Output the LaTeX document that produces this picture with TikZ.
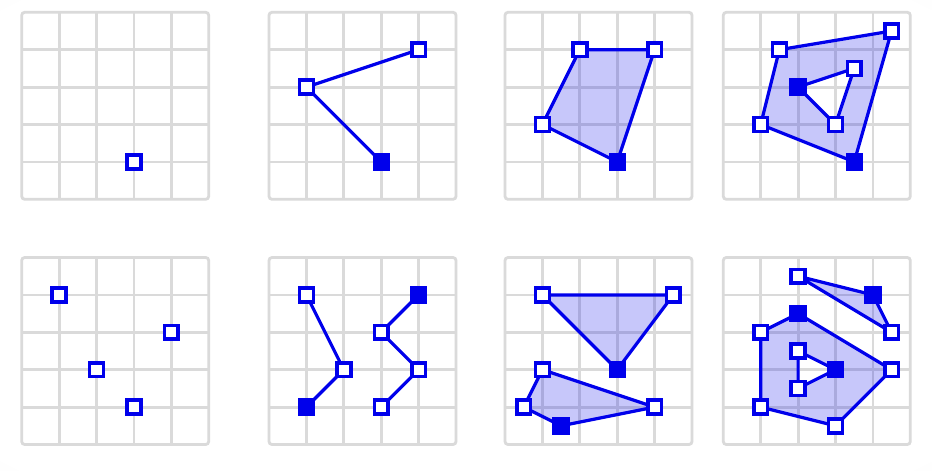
\documentclass[tikz,border=0pt]{standalone}
\pgfdeclarelayer{back}
\pgfdeclarelayer{mid}
\pgfsetlayers{back,mid,main}
\definecolor{vblue}{RGB}{0,0,235}
\definecolor{gridgray}{RGB}{218,218,218}
\pgfdeclareradialshading{bgshade}{\pgfpoint{0bp}{0bp}}{color(0bp)=(white); color(34bp)=(white); color(52bp)=(black!6); color(75bp)=(black!12)}
\tikzset{
  v/.style={rectangle, draw=vblue, fill=white, line width=3.6pt, minimum size=13.8pt, inner sep=0pt},
  vf/.style={v, fill=vblue},
  edge/.style={draw=vblue, line width=3.2pt, line join=round, line cap=round},
  area/.style={fill=vblue, fill opacity=0.22, even odd rule},
  gridline/.style={draw=gridgray, line width=2.8pt},
  panelorigin/.style={x=37.4pt, y=-37.4pt}
}
\newcommand\gridpanel{%
  \begin{pgfonlayer}{back}
    \fill[white, rounded corners=3pt] (0,0) rectangle (5,5);
    \foreach \i in {1,...,4}{\draw[gridline] (\i,0) -- (\i,5); \draw[gridline] (0,\i) -- (5,\i);}
    \draw[gridline, rounded corners=3pt] (0,0) rectangle (5,5);
  \end{pgfonlayer}}
\begin{document}
\begin{tikzpicture}[x=1pt, y=-1pt]
\useasboundingbox (0,0) rectangle (932,471);
\begin{pgfonlayer}{back}
  \shade[shading=bgshade] (0,0) rectangle (932,471);
\end{pgfonlayer}

% Panel A
\begin{scope}[shift={(21.7,12.3)}, panelorigin]
  \gridpanel
  \node[v] (a1) at (3,4) {};
\end{scope}

% Panel B
\begin{scope}[shift={(269,12.3)}, panelorigin]
  \gridpanel
  \node[v] (b1) at (4,1) {};
  \node[v] (b2) at (1,2) {};
  \node[vf] (b3) at (3,4) {};
  \begin{pgfonlayer}{mid}
    \draw[edge] (b1.center) -- (b2.center) -- (b3.center);
  \end{pgfonlayer}
\end{scope}

% Panel C
\begin{scope}[shift={(505,12.3)}, panelorigin]
  \gridpanel
  \node[v] (c1) at (2,1) {};
  \node[v] (c2) at (4,1) {};
  \node[vf] (c3) at (3,4) {};
  \node[v] (c4) at (1,3) {};
  \begin{pgfonlayer}{mid}
    \fill[area] (c1.center) -- (c2.center) -- (c3.center) -- (c4.center) -- cycle;
    \draw[edge] (c1.center) -- (c2.center) -- (c3.center) -- (c4.center) -- cycle;
  \end{pgfonlayer}
\end{scope}

% Panel D
\begin{scope}[shift={(723.3,12.3)}, panelorigin]
  \gridpanel
  \node[v] (d1) at (4.5,0.5) {};
  \node[v] (d2) at (1.5,1) {};
  \node[v] (d3) at (1,3) {};
  \node[vf] (d4) at (3.5,4) {};
  \node[vf] (d5) at (2,2) {};
  \node[v] (d6) at (3.5,1.5) {};
  \node[v] (d7) at (3,3) {};
  \begin{pgfonlayer}{mid}
    \fill[area] (d1.center) -- (d2.center) -- (d3.center) -- (d4.center) -- cycle
                (d5.center) -- (d6.center) -- (d7.center) -- cycle;
    \draw[edge] (d1.center) -- (d2.center) -- (d3.center) -- (d4.center) -- cycle;
    \draw[edge] (d5.center) -- (d6.center) -- (d7.center) -- cycle;
  \end{pgfonlayer}
\end{scope}

% Panel E
\begin{scope}[shift={(21.7,257.5)}, panelorigin]
  \gridpanel
  \node[v] (e1) at (1,1) {};
  \node[v] (e2) at (4,2) {};
  \node[v] (e3) at (2,3) {};
  \node[v] (e4) at (3,4) {};
\end{scope}

% Panel F
\begin{scope}[shift={(269,257.5)}, panelorigin]
  \gridpanel
  \node[v] (f1) at (1,1) {};
  \node[v] (f2) at (2,3) {};
  \node[vf] (f3) at (1,4) {};
  \node[vf] (f4) at (4,1) {};
  \node[v] (f5) at (3,2) {};
  \node[v] (f6) at (4,3) {};
  \node[v] (f7) at (3,4) {};
  \begin{pgfonlayer}{mid}
    \draw[edge] (f1.center) -- (f2.center) -- (f3.center);
    \draw[edge] (f4.center) -- (f5.center) -- (f6.center) -- (f7.center);
  \end{pgfonlayer}
\end{scope}

% Panel G
\begin{scope}[shift={(505,257.5)}, panelorigin]
  \gridpanel
  \node[v] (g1) at (1,1) {};
  \node[v] (g2) at (4.5,1) {};
  \node[vf] (g3) at (3,3) {};
  \node[v] (g4) at (1,3) {};
  \node[v] (g5) at (4,4) {};
  \node[vf] (g6) at (1.5,4.5) {};
  \node[v] (g7) at (0.5,4) {};
  \begin{pgfonlayer}{mid}
    \fill[area] (g1.center) -- (g2.center) -- (g3.center) -- cycle;
    \draw[edge] (g1.center) -- (g2.center) -- (g3.center) -- cycle;
    \fill[area] (g4.center) -- (g5.center) -- (g6.center) -- (g7.center) -- cycle;
    \draw[edge] (g4.center) -- (g5.center) -- (g6.center) -- (g7.center) -- cycle;
  \end{pgfonlayer}
\end{scope}

% Panel H
\begin{scope}[shift={(723.3,257.5)}, panelorigin]
  \gridpanel
  \node[v] (h1) at (2,0.5) {};
  \node[vf] (h2) at (4,1) {};
  \node[v] (h3) at (4.5,2) {};
  \node[vf] (h4) at (2,1.5) {};
  \node[v] (h5) at (4.5,3) {};
  \node[v] (h6) at (3,4.5) {};
  \node[v] (h7) at (1,4) {};
  \node[v] (h8) at (1,2) {};
  \node[v] (h9) at (2,2.5) {};
  \node[vf] (h10) at (3,3) {};
  \node[v] (h11) at (2,3.5) {};
  \begin{pgfonlayer}{mid}
    \fill[area] (h1.center) -- (h2.center) -- (h3.center) -- cycle;
    \draw[edge] (h1.center) -- (h2.center) -- (h3.center) -- cycle;
    \fill[area] (h4.center) -- (h5.center) -- (h6.center) -- (h7.center) -- (h8.center) -- cycle
                (h9.center) -- (h10.center) -- (h11.center) -- cycle;
    \draw[edge] (h4.center) -- (h5.center) -- (h6.center) -- (h7.center) -- (h8.center) -- cycle;
    \draw[edge] (h9.center) -- (h10.center) -- (h11.center) -- cycle;
  \end{pgfonlayer}
\end{scope}
\end{tikzpicture}
\end{document}
